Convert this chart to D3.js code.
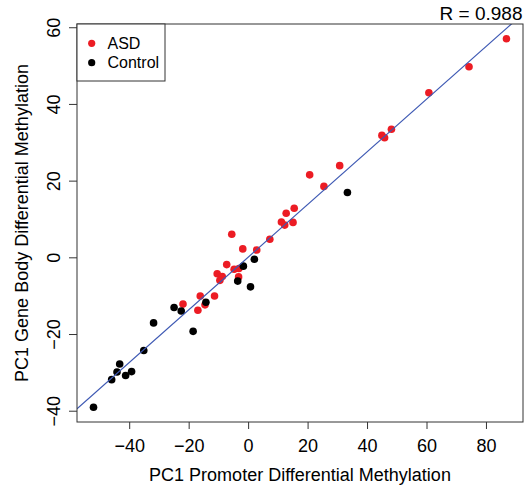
<!DOCTYPE html>
<html>
<head>
<meta charset="utf-8">
<script src="https://cdn.jsdelivr.net/npm/d3@7"></script>
<style>
  html, body { margin: 0; padding: 0; background: #fff; }
  svg text { font-family: "Liberation Sans", Arial, Helvetica, sans-serif; fill: #000; }
</style>
</head>
<body>
<svg id="chart" width="531" height="493"></svg>
<script>
// PC1 differential methylation: promoter (x) vs gene body (y)
const asdX = [86.9, 74.3, 60.8, 48.2, 45.0, 45.9, 30.8, 20.7, 25.5, 15.5, 12.8, 11.2, 12.3, 15.1, 7.3, 2.9,
              -5.5, -1.8, -7.2, -4.7, -3.1, -10.4, -8.7, -9.5, -3.2, -11.3, -16.1, -14.5, -16.9, -21.9];
const asdY = [57.0, 49.7, 42.9, 33.4, 31.8, 31.2, 23.9, 21.5, 18.5, 12.8, 11.5, 9.2, 8.4, 9.1, 4.7, 1.9,
              6.0, 2.2, -1.9, -3.1, -2.9, -4.3, -5.0, -6.0, -5.1, -10.1, -10.1, -12.4, -13.8, -12.2];
const ctrlX = [33.4, 2.1, -1.6, -3.5, 0.8, -14.2, -22.5, -24.9, -31.8, -18.5, -35.1, -43.2, -44.1, -41.2, -39.2, -45.9, -52.0];
const ctrlY = [16.9, -0.5, -2.3, -6.2, -7.7, -11.7, -14.0, -13.1, -17.1, -19.3, -24.3, -27.8, -29.9, -30.8, -29.8, -31.9, -39.1];

const groups = ["ASD", "Control"];
const groupColors = ["#ec1c24", "#000000"];
const xTicks = [-40, -20, 0, 20, 40, 60, 80];
const yTicks = [-40, -20, 0, 20, 40, 60];
const xTitle = "PC1 Promoter Differential Methylation";
const yTitle = "PC1 Gene Body Differential Methylation";
const corrLabel = "R = 0.988";

const svg = d3.select("#chart");
const plot = { left: 77, right: 523, top: 24, bottom: 422 };

const allX = asdX.concat(ctrlX);
const allY = asdY.concat(ctrlY);

// axis ranges padded by 4% on each side
function padded(vals) {
  const [lo, hi] = d3.extent(vals);
  const p = (hi - lo) * 0.04;
  return [lo - p, hi + p];
}

const x = d3.scaleLinear().domain(padded(allX)).range([plot.left, plot.right]);
const y = d3.scaleLinear().domain(padded(allY)).range([plot.bottom, plot.top]);

// least-squares fit of gene body on promoter
const mx = d3.mean(allX), my = d3.mean(allY);
let sxy = 0, sxx = 0;
allX.forEach((v, i) => { sxy += (v - mx) * (allY[i] - my); sxx += (v - mx) * (v - mx); });
const slope = sxy / sxx;
const intercept = my - slope * mx;

svg.append("defs").append("clipPath").attr("id", "plotClip")
  .append("rect")
  .attr("x", plot.left).attr("y", plot.top)
  .attr("width", plot.right - plot.left).attr("height", plot.bottom - plot.top);

// points
const pts = [];
asdX.forEach((v, i) => pts.push({ x: v, y: asdY[i], g: 0 }));
ctrlX.forEach((v, i) => pts.push({ x: v, y: ctrlY[i], g: 1 }));

svg.append("g").selectAll("circle").data(pts).join("circle")
  .attr("cx", d => x(d.x)).attr("cy", d => y(d.y))
  .attr("r", 3.8)
  .attr("fill", d => groupColors[d.g]);

// regression line
const [x0, x1] = x.domain();
svg.append("line")
  .attr("clip-path", "url(#plotClip)")
  .attr("x1", x(x0)).attr("y1", y(intercept + slope * x0))
  .attr("x2", x(x1)).attr("y2", y(intercept + slope * x1))
  .attr("stroke", "#3d58b3").attr("stroke-width", 1.2);

// frame
svg.append("rect")
  .attr("x", plot.left).attr("y", plot.top)
  .attr("width", plot.right - plot.left).attr("height", plot.bottom - plot.top)
  .attr("fill", "none").attr("stroke", "#333").attr("stroke-width", 1);

// axes
const fmt = d => d < 0 ? "\u2212" + Math.abs(d) : String(d);
const xAxis = svg.append("g").attr("transform", `translate(0,${plot.bottom})`)
  .call(d3.axisBottom(x).tickValues(xTicks).tickFormat(fmt).tickSize(7).tickPadding(6));
const yAxis = svg.append("g").attr("transform", `translate(${plot.left},0)`)
  .call(d3.axisLeft(y).tickValues(yTicks).tickFormat(fmt).tickSize(8).tickPadding(3));
[xAxis, yAxis].forEach(a => {
  a.select(".domain").remove();
  a.selectAll(".tick line").attr("stroke", "#333");
  a.selectAll("text").attr("font-size", 18).attr("font-family", null).attr("fill", "#000");
});
xAxis.selectAll("text").attr("dy", null).attr("y", 29.5);
yAxis.selectAll(".tick text")
  .attr("x", null).attr("dy", null).attr("text-anchor", "middle")
  .attr("transform", "translate(-17,0) rotate(-90)");

// axis titles
svg.append("text").attr("x", (plot.left + plot.right) / 2).attr("y", 480.5)
  .attr("text-anchor", "middle").attr("font-size", 18).text(xTitle);
svg.append("text")
  .attr("transform", `translate(27.5,${(plot.top + plot.bottom) / 2}) rotate(-90)`)
  .attr("text-anchor", "middle").attr("font-size", 18).text(yTitle);

// correlation label
svg.append("text").attr("x", 522.5).attr("y", 20)
  .attr("text-anchor", "end").attr("font-size", 19).text(corrLabel);

// legend
const leg = svg.append("g");
leg.append("rect").attr("x", plot.left).attr("y", plot.top)
  .attr("width", 88).attr("height", 57)
  .attr("fill", "#fff").attr("stroke", "#333").attr("stroke-width", 1);
groups.forEach((g, i) => {
  leg.append("circle").attr("cx", 91.7).attr("cy", 43.3 + i * 19.4).attr("r", 3.6).attr("fill", groupColors[i]);
  leg.append("text").attr("x", 107.5).attr("y", 48.8 + i * 19.4).attr("font-size", 16).text(g);
});
</script>
</body>
</html>
